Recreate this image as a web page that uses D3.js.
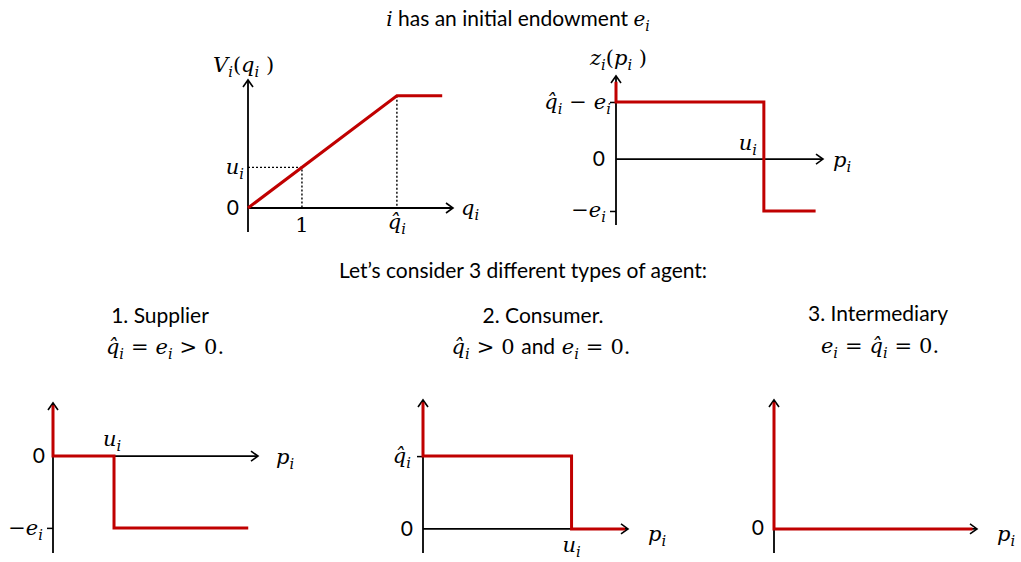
<!DOCTYPE html>
<html>
<head>
<meta charset="utf-8">
<script src="https://cdn.jsdelivr.net/npm/d3@7"></script>
<style>
  body { margin: 0; background: #fff; }
  svg { display: block; }
</style>
</head>
<body>
<svg id="chart" width="1021" height="562"></svg>
<script>
// ---- data ----
// V_i(q_i): linear up to q-hat, flat after
const vQ = [0, 2.76, 3.6];
const vV = [0, 2.76, 2.76];
const uGuide = [1, 1];          // (q, V) dotted to both axes
const qhatGuide = [2.76, 2.76]; // dotted down to q axis only
// z_i(p_i), general case
const zP = [0, 0, 1, 1, 1.35];
const zZ = [1.49, 1.1, 1.1, -1, -1];
// 1. supplier
const supP = [0, 0, 1, 1, 3.2];
const supZ = [0.71, 0, 0, -1, -1];
// 2. consumer
const conP = [0, 0, 1, 1, 1.36];
const conZ = [1.74, 1, 1, 0, 0];
// 3. intermediary
const intP = [0, 0, 1.35];
const intZ = [1.74, 0, 0];

const RED = "#C00000";
const SP = "\u2004"; // spacing around relations, math style
const MATH = "'DejaVu Serif', serif";
const svg = d3.select("#chart");

// open arrow head
svg.append("defs").append("marker")
  .attr("id", "arr")
  .attr("markerUnits", "userSpaceOnUse")
  .attr("markerWidth", 14).attr("markerHeight", 14)
  .attr("refX", 9).attr("refY", 6)
  .attr("orient", "auto")
  .append("path")
  .attr("d", "M2,1 L9,6 L2,11")
  .attr("fill", "none").attr("stroke", "#000").attr("stroke-width", 1.6);

// label with math style: letters italic serif, `...` = plain sans, _x = subscript
function label(g, x, y, str, anchor, size) {
  const runs = [];
  let sans = false;
  for (let i = 0; i < str.length; i++) {
    let c = str[i];
    if (c === "`") { sans = !sans; continue; }
    let sub = false;
    if (c === "_") { sub = true; c = str[++i]; }
    if (c === "\u0302" && runs.length) { runs[runs.length - 1].txt += c; continue; }
    const st = sans ? "sans" : (/[a-zA-Z]/.test(c) ? "it" : "up");
    const last = runs[runs.length - 1];
    if (last && last.st === st && last.sub === sub) last.txt += c;
    else runs.push({ txt: c, st: st, sub: sub });
  }
  const t = g.append("text").attr("x", x).attr("y", y)
    .attr("text-anchor", anchor || "start")
    .style("font-size", size + "px").attr("fill", "#000")
    .style("white-space", "pre");
  let down = 0;
  runs.forEach(r => {
    const sp = t.append("tspan").text(r.txt);
    if (r.st === "sans") sp.style("font-family", "Lato, 'Open Sans', sans-serif").style("font-size", "21px");
    else sp.style("font-family", MATH).style("font-style", r.st === "it" ? "italic" : "normal");
    const want = r.sub ? size * 0.26 : 0;
    if (want !== down) { sp.attr("dy", want - down); down = want; }
    if (r.sub) sp.style("font-size", (size * 0.7) + "px");
  });
  return t;
}
const eq = s => s.replace(/ ?([=>−]) ?/g, SP + "$1" + SP);

// generic panel: axes with arrows, red curve, ticks
function panel(cfg) {
  const g = svg.append("g");
  const x = d3.scaleLinear().domain(cfg.xDom).range(cfg.xRange);
  const y = d3.scaleLinear().domain(cfg.yDom).range(cfg.yRange);
  g.append("line")
    .attr("x1", x(0)).attr("x2", x(0))
    .attr("y1", y(cfg.yDom[0])).attr("y2", y(cfg.yDom[1]))
    .attr("stroke", "#000").attr("stroke-width", 1.8).attr("marker-end", "url(#arr)");
  g.append("line")
    .attr("x1", x(0)).attr("x2", x(cfg.xDom[1]))
    .attr("y1", y(0)).attr("y2", y(0))
    .attr("stroke", "#000").attr("stroke-width", 1.8).attr("marker-end", "url(#arr)");
  if (cfg.ticks) {
    const ax = g.append("g").attr("transform", `translate(${x(0)},0)`)
      .call(d3.axisLeft(y).tickValues(cfg.ticks).tickSize(6).tickFormat(""));
    ax.select(".domain").remove();
    ax.selectAll("line").attr("stroke-width", 1.5);
  }
  const line = d3.line().x(d => x(d[0])).y(d => y(d[1]));
  (cfg.guides || []).forEach(gd => {
    g.append("path")
      .attr("d", line(gd))
      .attr("fill", "none").attr("stroke", "#000")
      .attr("stroke-width", 1.4).attr("stroke-dasharray", "2,2");
  });
  g.append("path")
    .attr("d", line(cfg.px.map((v, i) => [v, cfg.py[i]])))
    .attr("fill", "none").attr("stroke", RED).attr("stroke-width", 3)
    .attr("stroke-linejoin", "miter");
  return { g, x, y };
}

// ---- top titles ----
label(svg, 518, 26, "i` has an initial endowment `e_i", "middle", 20);
label(svg, 523, 278, "`Let’s consider 3 different types of agent:`", "middle", 21);

// ---- V_i(q_i) ----
const pv = panel({ xDom: [0, 3.8], xRange: [248, 453], yDom: [-0.59, 3.15], yRange: [232, 80],
  px: vQ, py: vV,
  guides: [[[0, uGuide[1]], uGuide, [uGuide[0], 0]], [qhatGuide, [qhatGuide[0], 0]]] });
label(svg, 213, 72, "V_i(q_i )", "start", 21);
label(svg, 244, 174, "u_i", "end", 21);
label(svg, 239, 215, "`0`", "end", 20);
label(svg, pv.x(1), 232, "1", "middle", 21);
label(svg, pv.x(2.76), 229, "q\u0302_i", "middle", 21);
label(svg, 461, 215, "q_i", "start", 21);

// ---- z_i(p_i) ----
const pz = panel({ xDom: [0, 1.4], xRange: [616, 823], yDom: [-1.27, 1.6], yRange: [225, 76],
  px: zP, py: zZ, ticks: [1.1, -1] });
label(svg, 590, 65, "z_i(p_i )", "start", 21);
label(svg, 611, 109, eq("q\u0302_i − e_i"), "end", 21);
label(svg, 605, 166, "`0`", "end", 20);
label(svg, 606, 217, "−e_i", "end", 21);
label(svg, pz.x(1) - 16, 150, "u_i", "middle", 21);
label(svg, 833, 167, "p_i", "start", 21);

// ---- 1. supplier ----
label(svg, 160, 323, "`1. Supplier`", "middle", 21);
label(svg, 165, 354, eq("q\u0302_i = e_i > 0."), "middle", 21);
const ps = panel({ xDom: [0, 3.36], xRange: [53, 258], yDom: [-1.35, 0.74], yRange: [553, 403],
  px: supP, py: supZ, ticks: [-1] });
label(svg, 45, 463, "`0`", "end", 20);
label(svg, ps.x(1) - 2, 446, "u_i", "middle", 21);
label(svg, 276, 464, "p_i", "start", 21);
label(svg, 43, 535, "−e_i", "end", 21);

// ---- 2. consumer ----
label(svg, 543, 323, "`2. Consumer.`", "middle", 21);
label(svg, 541, 354, eq("q\u0302_i > 0 `and` e_i = 0."), "middle", 21);
const pc = panel({ xDom: [0, 1.38], xRange: [423, 628], yDom: [-0.33, 1.77], yRange: [553, 400],
  px: conP, py: conZ, ticks: [1] });
label(svg, 411, 463, "q\u0302_i", "end", 21);
label(svg, 413, 536, "`0`", "end", 20);
label(svg, pc.x(1), 552, "u_i", "middle", 21);
label(svg, 648, 541, "p_i", "start", 21);

// ---- 3. intermediary ----
label(svg, 878, 321, "`3. Intermediary`", "middle", 21);
label(svg, 880, 353, eq("e_i = q\u0302_i = 0."), "middle", 21);
panel({ xDom: [0, 1.38], xRange: [774, 977], yDom: [-0.33, 1.77], yRange: [553, 400],
  px: intP, py: intZ });
label(svg, 764, 535, "`0`", "end", 20);
label(svg, 997, 541, "p_i", "start", 21);
</script>
</body>
</html>
